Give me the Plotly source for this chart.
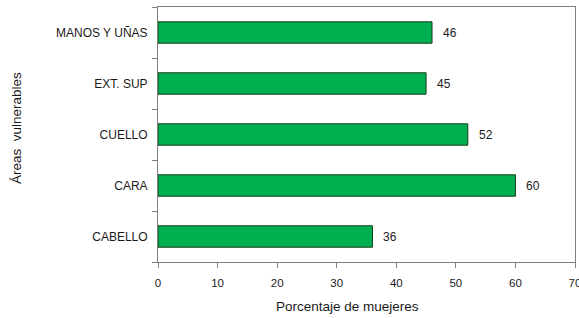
import plotly.graph_objects as go

categories = ["CABELLO", "CARA", "CUELLO", "EXT. SUP", "MANOS Y UÑAS"]
values = [36, 60, 52, 45, 46]
x_ticks = [0, 10, 20, 30, 40, 50, 60, 70]

font_family = "Liberation Sans, Arial, sans-serif"
text_color = "#1a1a1a"
axis_color = "#7f7f7f"

fig = go.Figure()
fig.add_trace(go.Bar(
    y=categories, x=values, orientation="h",
    width=0.42,
    marker=dict(color="#00B050", line=dict(color="#1a3a1a", width=1)),
    hoverinfo="x+y",
))
for c, v in zip(categories, values):
    fig.add_annotation(x=v, y=c, text=str(v), showarrow=False,
                       xanchor="left", xshift=9,
                       font=dict(family=font_family, size=12, color=text_color))

fig.add_annotation(text="Porcentaje de muejeres", xref="paper", yref="paper",
                   x=(347 - 158) / (575 - 158), y=-(306 - 262) / (262 - 7),
                   xanchor="center", yanchor="middle", showarrow=False,
                   font=dict(family=font_family, size=13.5, color=text_color))
fig.add_annotation(text="Áreas  vulnerables", xref="paper", yref="paper",
                   x=-(158 - 16) / (575 - 158), y=(262 - 128) / (262 - 7),
                   xanchor="center", yanchor="middle", showarrow=False,
                   textangle=-90,
                   font=dict(family=font_family, size=13.5, color=text_color))

fig.update_layout(
    width=579, height=318,
    margin=dict(l=158, r=4, t=7, b=56, autoexpand=False),
    paper_bgcolor="white", plot_bgcolor="white",
    showlegend=False,
    font=dict(family=font_family, size=11, color=text_color),
    xaxis=dict(
        range=[0, 70], tickvals=x_ticks, ticktext=[str(t) for t in x_ticks],
        showgrid=False, zeroline=False, automargin=False,
        showline=True, linecolor=axis_color, linewidth=1, mirror=True,
        ticks="outside", ticklen=5, tickcolor=axis_color,
        tickfont=dict(size=11.5),
        ticklabelstandoff=5,
        ticklabeloverflow="allow",
    ),
    yaxis=dict(
        type="category", tickson="boundaries", automargin=False,
        showgrid=False, zeroline=False,
        showline=True, linecolor=axis_color, linewidth=1, mirror=True,
        ticks="outside", ticklen=5, tickcolor=axis_color,
        tickfont=dict(size=12),
        ticklabelstandoff=7,
    ),
)

fig.write_html("out.html",
               config={"displayModeBar": False},
               post_script="document.body.style.margin='0';document.body.style.overflow='hidden';")
